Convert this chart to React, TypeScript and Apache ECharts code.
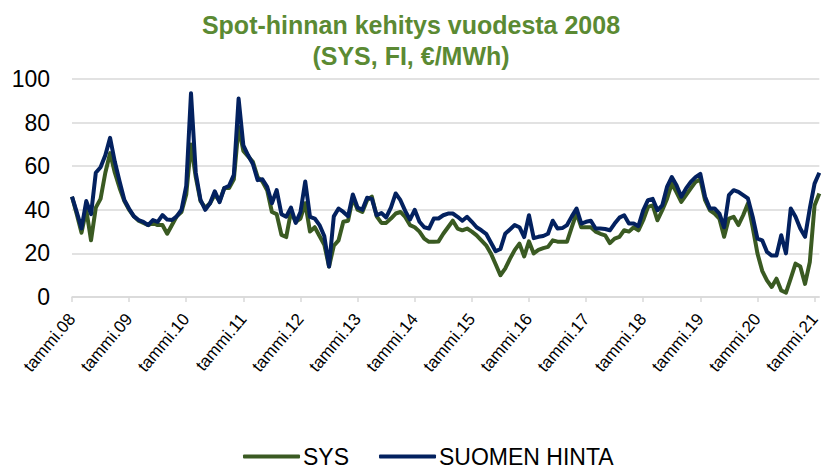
import React, { useEffect, useRef } from "react";
import * as echarts from "echarts";

const monthNames = ["tammi", "helmi", "maalis", "huhti", "touko", "kesä", "heinä", "elo", "syys", "loka", "marras", "joulu"];
const startYear = 2008;
const monthCount = 158; // tammi.08 ... helmi.21

const categories: string[] = [];
for (let i = 0; i < monthCount; i++) {
  const y = startYear + Math.floor(i / 12);
  categories.push(monthNames[i % 12] + "." + String(y % 100).padStart(2, "0"));
}

const sys = [
  46, 38, 29.5, 40, 26, 41, 45, 57, 66, 57, 50, 44,
  40, 37, 35, 34, 33, 34, 33, 33, 29, 33, 37, 39,
  47, 70, 55, 44, 41, 43, 47, 44, 50, 50, 54, 78,
  67, 64.5, 62, 55, 53, 49, 39, 38, 28.5, 27.5, 39, 34.5,
  36, 43, 30, 32, 28, 24, 14, 23.5, 26, 34.5, 35, 45.5,
  40, 39, 44.5, 46, 37, 34, 34, 36, 38.3, 39, 36.7, 33,
  32, 30, 26.8, 25.3, 25.3, 25.5, 29, 32, 35, 31.4, 30.6, 31.4,
  30, 28.3, 26, 23.7, 20, 15, 10, 13, 17.5, 21.5, 24.5, 18.6,
  25.5, 20, 21.6, 22.4, 23, 26, 25.4, 25.4, 25.4, 32, 38.5, 32,
  32, 32, 30, 29, 28.3, 24.7, 26.8, 27.6, 30.6, 30, 32, 30.6,
  35.2, 41.3, 42, 35.2, 39.8, 45, 52, 48, 43.6, 46.7, 49.8, 52.8,
  54, 44.4, 39.8, 38.3, 36, 27.6, 36, 36.8, 33, 37.5, 42.9, 32,
  20, 12, 7.6, 4.6, 8.4, 3, 2, 8.5, 15.3, 14, 6, 16,
  42, 47.5,
];

const suomi = [
  46, 39, 31.5, 44, 38, 57, 59.5, 65, 73, 62, 53, 44.5,
  40.5, 37, 35.3, 34.5, 33, 35.3, 34.5, 37.6, 35.5, 35.3, 37, 40,
  51, 93.5, 57, 44.5, 40, 43, 48.5, 43.5, 50, 51, 56, 91,
  69.5, 65, 61, 53.6, 54, 50.5, 43, 49, 38, 36.8, 41, 34,
  39, 53, 36.8, 36, 33, 28, 14, 37, 40.6, 39, 37, 47,
  41, 40, 45.5, 45, 37.5, 38.5, 36.5, 41, 47.5, 44.4, 39.5, 35.5,
  40, 34.5, 32, 31.4, 36, 36, 37.5, 38.3, 38.3, 36.8, 35, 36.8,
  34.5, 32, 30.6, 29, 25, 21, 22, 29, 31, 33, 32, 27.5,
  37.5, 27, 27.6, 28, 29, 35, 31.4, 31.6, 33, 37, 40.6, 33.7,
  34.5, 35, 31.4, 31.4, 31.2, 30.6, 33.7, 36.4, 37.5, 33.7, 33.7, 32.5,
  39.8, 44.4, 45, 39.8, 42, 50.5, 55, 51.3, 46, 49.8, 52.8, 55,
  56.5, 46, 40.6, 40.6, 38.3, 32, 46.7, 49, 48.2, 46.7, 45.2, 36.8,
  26.8, 26, 20.7, 19, 19, 28.3, 20, 40.6, 36.8, 31.4, 27.6, 40.6,
  52, 57,
];

const titleLines = ["Spot-hinnan kehitys vuodesta 2008", "(SYS, FI, €/MWh)"];
const seriesNames = ["SYS", "SUOMEN HINTA"];
const yTicks = { min: 0, max: 100, interval: 20 };

const FONT = "'Liberation Sans', Arial, sans-serif";

export default function App() {
  const ref = useRef<HTMLDivElement>(null);
  useEffect(() => {
    if (!ref.current) return;
    const chart = echarts.init(ref.current, undefined, { renderer: "svg" });
    chart.setOption({
      animation: false,
      backgroundColor: "#ffffff",
      textStyle: { fontFamily: FONT },
      title: {
        text: titleLines.join("\n"),
        left: 406,
        textAlign: "center",
        top: 4,
        textStyle: {
          fontFamily: FONT,
          fontSize: 25,
          fontWeight: "bold",
          color: "#5b8a33",
          lineHeight: 31,
        },
      },
      legend: {
        left: 243,
        top: 445,
        padding: 0,
        itemWidth: 57,
        itemHeight: 4,
        itemGap: 30,
        icon: "roundRect",
        textStyle: { fontFamily: FONT, fontSize: 23, lineHeight: 22, color: "#000", padding: [0, 0, 0, -2] },
        data: seriesNames,
      },
      grid: { left: 72, right: 1, top: 79, bottom: 172, containLabel: false },
      xAxis: {
        type: "category",
        boundaryGap: false,
        data: categories,
        axisLine: { lineStyle: { color: "#d9d9d9", width: 1.5 } },
        axisTick: { interval: 11, length: 5, lineStyle: { color: "#d9d9d9", width: 1.5 } },
        axisLabel: {
          interval: 11,
          rotate: 50,
          margin: 19,
          fontFamily: FONT,
          fontSize: 17,
          color: "#000",
        },
        splitLine: { show: false },
      },
      yAxis: {
        type: "value",
        min: yTicks.min,
        max: yTicks.max,
        interval: yTicks.interval,
        axisLine: { show: false },
        axisTick: { show: false },
        axisLabel: { fontFamily: FONT, fontSize: 23, color: "#000", margin: 22 },
        splitLine: { lineStyle: { color: "#d9d9d9", width: 1.5 } },
      },
      series: [
        {
          name: seriesNames[0],
          type: "line",
          data: sys,
          showSymbol: false,
          symbol: "none",
          lineStyle: { color: "#3a5a22", width: 4, join: "round" },
          itemStyle: { color: "#3a5a22" },
        },
        {
          name: seriesNames[1],
          type: "line",
          data: suomi,
          showSymbol: false,
          symbol: "none",
          lineStyle: { color: "#03215f", width: 4, join: "round" },
          itemStyle: { color: "#03215f" },
        },
      ],
    });
    return () => chart.dispose();
  }, []);
  return <div ref={ref} style={{ width: 823, height: 469, position: "absolute", left: 0, top: 0 }} />;
}
